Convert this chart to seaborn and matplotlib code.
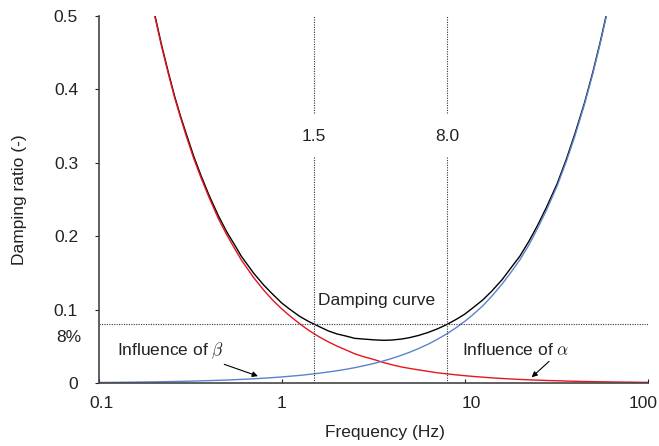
import matplotlib
matplotlib.use("Agg")
import matplotlib.pyplot as plt
import matplotlib.transforms as mtransforms
import seaborn as sns
import pandas as pd

# Values (frequency in Hz, damping ratio)
freq_alpha = [0.2, 0.22, 0.24, 0.26, 0.28, 0.3, 0.33, 0.36, 0.4, 0.45, 0.5, 0.55, 0.6, 0.7,
              0.8, 0.9, 1.0, 1.1, 1.25, 1.4, 1.6, 1.8, 2.0, 2.25, 2.5, 2.8, 3.2, 3.6, 4.0,
              4.5, 5.0, 5.6, 6.3, 7.1, 8.0, 9.0, 10, 11, 12.5, 14, 16, 18, 20, 22.5, 25, 28,
              32, 36, 40, 45, 50, 55, 60, 70, 80, 90, 100]
zeta_alpha = [0.505, 0.459, 0.421, 0.388, 0.361, 0.337, 0.306, 0.281, 0.253, 0.224, 0.202,
              0.184, 0.168, 0.144, 0.126, 0.112, 0.101, 0.092, 0.081, 0.072, 0.063, 0.056,
              0.0505, 0.045, 0.040, 0.036, 0.032, 0.028, 0.025, 0.022, 0.020, 0.018, 0.016,
              0.014, 0.0126, 0.0112, 0.0101, 0.0092, 0.0081, 0.0072, 0.0063, 0.0056, 0.005,
              0.0045, 0.004, 0.0036, 0.0032, 0.0028, 0.0025, 0.0022, 0.002, 0.0018, 0.0017,
              0.0014, 0.0013, 0.0011, 0.001]

freq_beta = [0.1, 0.15, 0.2, 0.3, 0.4, 0.5, 0.6, 0.7, 0.8, 0.9, 1.0, 1.1, 1.25, 1.4, 1.6,
             1.8, 2.0, 2.25, 2.5, 2.8, 3.2, 3.6, 4.0, 4.5, 5.0, 5.6, 6.3, 7.1, 8.0, 9.0, 10,
             11, 12.5, 14, 16, 18, 20, 22.5, 25, 28, 32, 36, 40, 45, 50, 55, 60]
zeta_beta = [0.0008, 0.0013, 0.0017, 0.0025, 0.0034, 0.0042, 0.0051, 0.0059, 0.0067, 0.0076,
             0.0084, 0.0093, 0.0105, 0.0118, 0.0135, 0.0152, 0.0168, 0.0189, 0.021, 0.0236,
             0.0269, 0.0303, 0.0337, 0.0379, 0.0421, 0.0472, 0.053, 0.0598, 0.0674, 0.0758,
             0.0842, 0.0926, 0.105, 0.118, 0.135, 0.152, 0.168, 0.189, 0.211, 0.236, 0.269,
             0.303, 0.337, 0.379, 0.421, 0.463, 0.505]

freq_total = [0.2, 0.22, 0.24, 0.26, 0.28, 0.3, 0.33, 0.36, 0.4, 0.45, 0.5, 0.55, 0.6, 0.7,
              0.8, 0.9, 1.0, 1.1, 1.25, 1.4, 1.6, 1.8, 2.0, 2.25, 2.5, 2.8, 3.2, 3.6, 4.0,
              4.5, 5.0, 5.6, 6.3, 7.1, 8.0, 9.0, 10, 11, 12.5, 14, 16, 18, 20, 22.5, 25, 28,
              32, 36, 40, 45, 50, 55, 60]
zeta_total = [0.507, 0.461, 0.423, 0.390, 0.363, 0.340, 0.309, 0.284, 0.256, 0.228, 0.206,
              0.189, 0.173, 0.150, 0.133, 0.120, 0.109, 0.101, 0.091, 0.084, 0.077, 0.071,
              0.067, 0.064, 0.061, 0.060, 0.0589, 0.0583, 0.0587, 0.060, 0.062, 0.065, 0.069,
              0.074, 0.080, 0.087, 0.094, 0.102, 0.113, 0.125, 0.141, 0.158, 0.173, 0.194,
              0.215, 0.240, 0.272, 0.306, 0.340, 0.381, 0.423, 0.465, 0.507]

target_freqs = [1.5, 8.0]
target_labels = ["1.5", "8.0"]
target_zeta = 0.08

x_ticks = [0.1, 1, 10, 100]
x_ticklabels = ["0.1", "1", "10", "100"]
y_ticks = [0, 0.1, 0.2, 0.3, 0.4, 0.5]
y_ticklabels = ["0", "0.1", "0.2", "0.3", "0.4", "0.5"]

df_alpha = pd.DataFrame({"f": freq_alpha, "z": zeta_alpha})
df_beta = pd.DataFrame({"f": freq_beta, "z": zeta_beta})
df_total = pd.DataFrame({"f": freq_total, "z": zeta_total})

sns.set_style("ticks")
plt.rcParams["font.family"] = ["Liberation Sans", "DejaVu Sans"]
plt.rcParams["mathtext.fontset"] = "cm"

FS = 12.5
TXT = "#222222"

fig = plt.figure(figsize=(6.59, 4.46), dpi=100)
ax = fig.add_axes([0.150, 0.141, 0.833, 0.823])

sns.lineplot(data=df_total, x="f", y="z", color="black", lw=1.0, ax=ax)
sns.lineplot(data=df_alpha, x="f", y="z", color="#e8141c", lw=1.0, ax=ax)
sns.lineplot(data=df_beta, x="f", y="z", color="#5b82cc", lw=1.0, ax=ax)

ax.set_xscale("log")
ax.set_xlim(0.1, 100)
ax.set_ylim(0, 0.5)

# reference lines
dots = (0, (1, 1.2))
ax.axhline(target_zeta, color="#333333", lw=0.8, ls=dots)
for fx, lab in zip(target_freqs, target_labels):
    ax.vlines(fx, 0, 0.31, color="#333333", lw=0.8, ls=dots)
    ax.vlines(fx, 0.368, 0.5, color="#333333", lw=0.8, ls=dots)
    ax.text(fx, 0.336, lab, ha="center", va="center", fontsize=FS, color=TXT)

ax.set_xticks(x_ticks)
ax.set_xticklabels(x_ticklabels)
ax.set_xticks([], minor=True)
ax.set_yticks(y_ticks)
ax.set_yticklabels(y_ticklabels)
ax.tick_params(axis="y", direction="out", length=3, pad=12, labelsize=FS, colors=TXT)
ax.tick_params(axis="x", direction="in", length=3, pad=9, labelsize=FS, colors=TXT)
# small horizontal nudges of the x tick labels, as in the original
for lab, dx in zip(ax.get_xticklabels(), [3, 0, 6, -5]):
    lab.set_transform(lab.get_transform() + mtransforms.ScaledTranslation(dx / 100, 0, fig.dpi_scale_trans))
for s in ["left", "bottom"]:
    ax.spines[s].set_color("#444444")
    ax.spines[s].set_linewidth(1.2)
sns.despine(ax=ax)

ax.set_xlabel("Frequency (Hz)", fontsize=FS, color=TXT)
ax.xaxis.set_label_coords(0.521, -0.115)
ax.set_ylabel("Damping ratio (-)", fontsize=FS, color=TXT)
ax.yaxis.set_label_coords(-0.13, 0.5)

fig.text(81 / 659, 1 - 337 / 446, "8%", ha="right", va="center", fontsize=FS, color=TXT)

ax.text(3.3, 0.113, "Damping curve", ha="center", va="center", fontsize=FS, color=TXT)
ax.annotate(r"Influence of $\beta$", xy=(0.74, 0.0095), xytext=(0.125, 0.044),
            ha="left", va="center", fontsize=FS, color=TXT,
            arrowprops=dict(arrowstyle="-|>", color="black", lw=0.8, mutation_scale=8,
                            shrinkA=0, shrinkB=0, relpos=(0.92, 0.0)))
ax.annotate(r"Influence of $\alpha$", xy=(23.2, 0.008), xytext=(9.6, 0.045),
            ha="left", va="center", fontsize=FS, color=TXT,
            arrowprops=dict(arrowstyle="-|>", color="black", lw=0.8, mutation_scale=8,
                            shrinkA=0, shrinkB=0, relpos=(0.85, 0.0)))

fig.savefig("out.png", dpi=100)
